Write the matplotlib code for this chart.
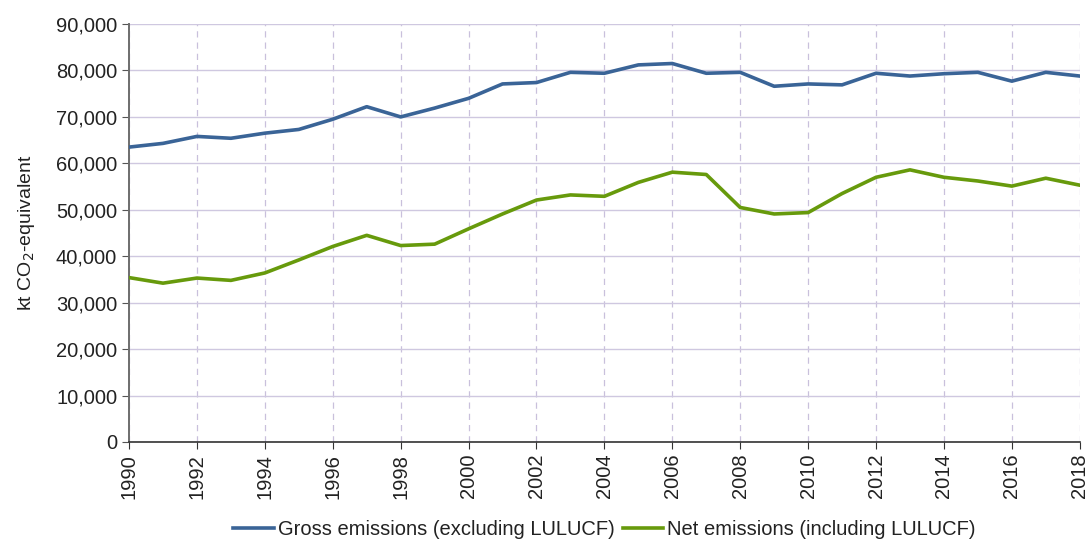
import matplotlib.pyplot as plt
from matplotlib.ticker import FuncFormatter, MultipleLocator

plt.rcParams['font.family'] = ['Liberation Sans', 'DejaVu Sans']

years = list(range(1990, 2019))

# kt CO2-equivalent
gross = [63500, 64300, 65800, 65400, 66500, 67300, 69500, 72200, 70000, 71900,
         74000, 77100, 77400, 79600, 79400, 81200, 81500, 79400, 79600, 76600,
         77100, 76900, 79400, 78800, 79300, 79600, 77700, 79600, 78800]
net = [35400, 34200, 35300, 34800, 36400, 39200, 42100, 44500, 42300, 42600,
       45900, 49100, 52100, 53200, 52900, 55900, 58100, 57600, 50500, 49100,
       49400, 53500, 57000, 58600, 57000, 56200, 55100, 56800, 55300]

labels = ["Gross emissions (excluding LULUCF)", "Net emissions (including LULUCF)"]

fig = plt.figure(figsize=(10.89, 5.4), dpi=100)
ax = fig.add_axes([0.1185, 0.1815, 0.873, 0.774])

ax.plot(years, gross, color="#3a6497", lw=2.6, label=labels[0], zorder=3)
ax.plot(years, net, color="#679a0c", lw=2.6, label=labels[1], zorder=3)

ax.set_xlim(1990, 2018)
ax.set_ylim(0, 90000)
ax.set_xticks(range(1990, 2019, 2))
ax.yaxis.set_major_locator(MultipleLocator(10000))
ax.yaxis.set_major_formatter(FuncFormatter(lambda v, p: f"{int(v):,}"))

ax.grid(axis="y", color="#cfc8e0", lw=1, zorder=0)
ax.grid(axis="x", color="#c9c0dc", lw=0.9, ls=(0, (5, 4)), zorder=0)

for side in ["top", "right"]:
    ax.spines[side].set_visible(False)
ax.spines["left"].set_color("#6e6e6e")
ax.spines["left"].set_linewidth(1.4)
ax.spines["bottom"].set_color("#333333")
ax.spines["bottom"].set_linewidth(1.2)

ax.tick_params(axis="y", labelsize=14.5, length=5, color="#555555", direction="out",
               labelcolor="#222222")
ax.tick_params(axis="x", labelsize=14.5, length=5, color="#333333", direction="out",
               labelrotation=90, labelcolor="#222222")

ax.set_ylabel(r"kt CO$_2$-equivalent", fontsize=14, labelpad=14, color="#222222")

ax.legend(loc="center", bbox_to_anchor=(0.5, -0.21), ncol=2, frameon=False,
          fontsize=14.5, handlelength=2.0, handletextpad=0.2, columnspacing=0.4,
          labelcolor="#222222")

fig.savefig("out.png", dpi=100)
